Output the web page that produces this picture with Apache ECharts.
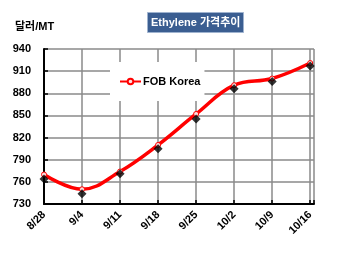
<!DOCTYPE html>
<html><head><meta charset="utf-8">
<script src="https://cdn.jsdelivr.net/npm/echarts@6/dist/echarts.min.js"></script>
<style>html,body{margin:0;padding:0;background:#fff}#c{width:350px;height:254px}</style>
</head><body><div id="c"></div>
<script>
const categories = ['8/28','9/4','9/11','9/18','9/25','10/2','10/9','10/16'];
const fobKorea = [770, 750, 774, 810, 852, 891, 900, 921];
const actual = [764, 744, 771, 805, 845, 886, 896, 917];
const yTicks = [730, 760, 790, 820, 850, 880, 910, 940];
const FONT = 'Arial, "Liberation Sans", "Noto Sans CJK KR", sans-serif';

const chart = echarts.init(document.getElementById('c'), null, {renderer: 'canvas'});
chart.setOption({
  animation: false,
  backgroundColor: '#fff',
  title: [{
    text: 'Ethylene 가격추이',
    left: 147, top: 12,
    padding: [4, 3, 4, 4],
    backgroundColor: '#3b5e91',
    borderColor: '#9fb3cf', borderWidth: 1,
    textStyle: {color: '#fff', fontSize: 11, lineHeight: 13, fontWeight: 'bold', fontFamily: FONT}
  }, {
    text: '달러/MT',
    left: 15, top: 21,
    padding: 0,
    textStyle: {color: '#000', fontSize: 11, fontWeight: 'bold', fontFamily: FONT}
  }],
  legend: {
    data: ['FOB Korea'],
    left: 110, top: 62,
    padding: [14, 4, 14, 9],
    backgroundColor: '#fff',
    itemWidth: 21, itemHeight: 7, itemGap: 4,
    textStyle: {color: '#000', fontSize: 11, fontWeight: 'bold', fontFamily: FONT, padding: [0,0,0,-3]}
  },
  grid: {left: 44, top: 49, right: 36, bottom: 50, containLabel: false},
  xAxis: {
    type: 'value', min: 0, max: 7.1, interval: 1,
    axisLine: {show: true, lineStyle: {color: '#000', width: 2}},
    axisTick: {show: true, inside: true, length: 4, lineStyle: {color: '#000', width: 1.5}},
    splitLine: {show: true, lineStyle: {color: '#8a8a8a', width: 1.5}},
    axisLabel: {
      rotate: 45, margin: 9, color: '#000', fontSize: 11, fontWeight: 'bold', fontFamily: FONT,
      formatter: v => Number.isInteger(v) && categories[v] !== undefined ? categories[v] : ''
    }
  },
  yAxis: {
    type: 'value', min: yTicks[0], max: yTicks[yTicks.length-1], interval: 30,
    axisLine: {show: true, lineStyle: {color: '#000', width: 2}},
    axisTick: {show: true, inside: true, length: 4, lineStyle: {color: '#000', width: 1.5}},
    splitLine: {show: true, lineStyle: {color: '#8a8a8a', width: 1.5}},
    axisLabel: {margin: 13, color: '#000', fontSize: 11, fontWeight: 'bold', fontFamily: FONT}
  },
  series: [{
    name: 'FOB Korea', type: 'line', smooth: 0.4,
    data: fobKorea.map((v, i) => [i, v]),
    symbol: 'circle', symbolSize: 5, showSymbol: true,
    lineStyle: {color: '#ff0000', width: 3.5},
    itemStyle: {color: '#ffdede', borderColor: '#ff0000', borderWidth: 1},
    z: 3
  }, {
    name: 'actual', type: 'scatter',
    data: actual.map((v, i) => [i, v]),
    symbol: 'diamond', symbolSize: 9,
    itemStyle: {color: '#000'},
    z: 4
  }]
});
</script></body></html>
